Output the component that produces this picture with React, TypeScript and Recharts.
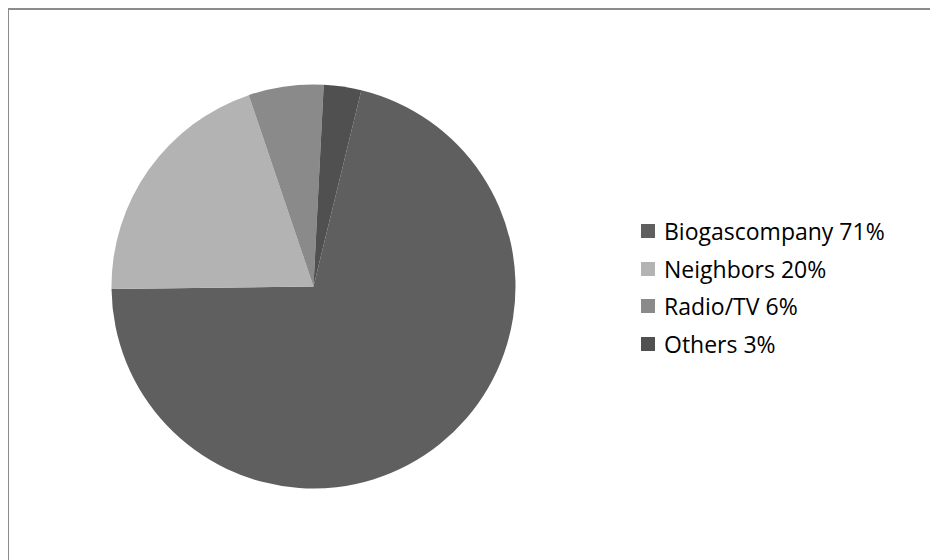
import React from "react";
import { PieChart, Pie, Cell, Legend } from "recharts";

// Source of information about biogas
const sources = ["Biogascompany 71%", "Neighbors 20%", "Radio/TV 6%", "Others 3%"];
const shares = [71, 20, 6, 3];
const sliceColors = ["#5f5f5f", "#b3b3b3", "#8a8a8a", "#505050"];

const data = sources.map((name, i) => ({ name, value: shares[i] }));

const FONT = "'Open Sans', 'Noto Sans', sans-serif";

function LegendList(props: any) {
  const payload = [...(props.payload || [])].sort(
    (a: any, b: any) => sources.indexOf(a.value) - sources.indexOf(b.value)
  );
  return (
    <div style={{ fontFamily: FONT, fontSize: 23, color: "#000" }}>
      {payload.map((entry: any, i: number) => (
        <div
          key={i}
          style={{ display: "flex", alignItems: "center", height: 37.7, whiteSpace: "nowrap" }}
        >
          <span
            style={{
              display: "inline-block",
              width: 14,
              height: 14,
              background: entry.color,
              marginRight: 9,
            }}
          />
          <span>{entry.value}</span>
        </div>
      ))}
    </div>
  );
}

export default function App() {
  return (
    <div
      style={{
        position: "relative",
        width: 931,
        height: 552,
        marginLeft: -1,
        borderTop: "2px solid #8c8c8c",
        borderLeft: "2px solid #8c8c8c",
        boxSizing: "border-box",
        background: "#fff",
      }}
    >
      <PieChart width={929} height={550}>
        <Pie
          data={data}
          dataKey="value"
          nameKey="name"
          cx={299.5}
          cy={271.5}
          outerRadius={202}
          startAngle={76.3}
          endAngle={-283.7}
          stroke="none"
          isAnimationActive={false}
        >
          {data.map((_, i) => (
            <Cell key={i} fill={sliceColors[i]} />
          ))}
        </Pie>
        <Legend
          layout="vertical"
          content={<LegendList />}
          wrapperStyle={{ left: 632, top: 202, width: 295 }}
        />
      </PieChart>
    </div>
  );
}
